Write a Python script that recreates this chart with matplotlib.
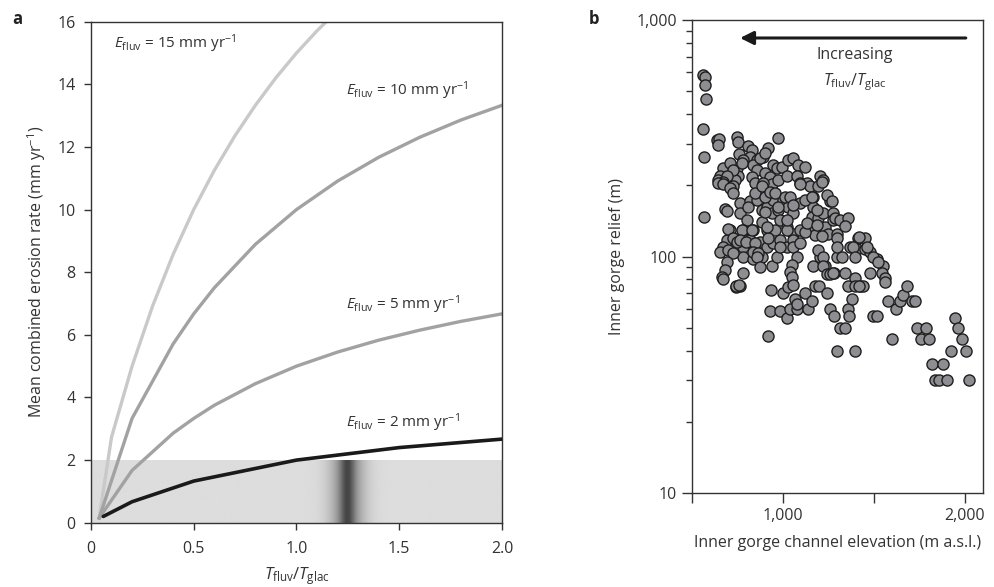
import numpy as np
import matplotlib
matplotlib.use("Agg")
import matplotlib.pyplot as plt

plt.rcParams['font.family'] = ['Open Sans', 'DejaVu Sans']
plt.rcParams['mathtext.fontset'] = 'custom'
plt.rcParams['mathtext.rm'] = 'Open Sans'
plt.rcParams['mathtext.it'] = 'Open Sans:italic'
plt.rcParams['mathtext.bf'] = 'Open Sans:bold'

# ---------------- Panel a data ----------------
ratio_x15 = [0.04, 0.1, 0.2, 0.3, 0.4, 0.5, 0.6, 0.7, 0.8, 0.9, 1.0, 1.1, 1.2]
e15 = [0.15, 2.73, 5.0, 6.92, 8.57, 10.0, 11.25, 12.35, 13.33, 14.21, 15.0, 15.71, 16.36]
ratio_x = [0.04, 0.2, 0.4, 0.5, 0.6, 0.8, 1.0, 1.2, 1.4, 1.6, 1.8, 2.0]
e10 = [0.15, 3.33, 5.71, 6.67, 7.5, 8.89, 10.0, 10.91, 11.67, 12.31, 12.86, 13.33]
e5 = [0.15, 1.67, 2.86, 3.33, 3.75, 4.44, 5.0, 5.45, 5.83, 6.15, 6.43, 6.67]
ratio_x2 = [0.06, 0.2, 0.5, 1.0, 1.5, 2.0]
e2 = [0.2, 0.67, 1.33, 2.0, 2.4, 2.67]
curve_labels = ["15", "10", "5", "2"]

# ---------------- Panel b data ----------------
elevation = (
    [560, 571, 571, 577, 560, 566, 566, 637, 648, 643, 747, 753, 973]
    + [808, 830, 819, 758, 780, 918, 890, 857, 670, 654, 643, 747, 753, 736, 725]
    + [835, 857, 830, 846, 945, 967, 994, 1027, 1055, 1082, 1120, 1203, 1220]
    + [901, 929, 940, 890, 973, 1022, 1077, 1093, 1131, 1148, 775, 874, 901]
    + [709, 725, 692, 670, 1192, 1165, 1148, 1165, 1159, 1192, 1220, 1275]
    + [1148, 1176, 1231, 1247, 1297, 1412, 1450, 1368, 1406, 1450, 1478, 1517, 1550, 1203, 1165, 1231]
    + [764, 819, 857, 885, 912, 945, 940, 973, 1000, 1027, 1055, 1093]
    + [764, 803, 781, 835, 885, 912, 956, 984, 1022, 1055, 1093]
    + [748, 781, 819, 874, 912, 945, 984, 1022, 1055, 709, 692, 670, 654, 781, 835, 885]
    + [643, 670, 709, 725, 808, 846, 885, 901, 929, 956, 973, 1011, 1038, 1055, 1093, 1120, 1159, 1187, 1214, 1258]
    + [681, 692, 698, 725, 747, 698, 725, 692, 681, 665, 670, 780, 764, 742]
    + [775, 830, 764, 797, 846, 835, 863, 857, 874, 940, 918, 912, 901, 967, 984, 1022, 1022, 1055, 1077, 1049]
    + [1093, 1120, 1131, 1187, 1214, 1192, 1220, 1220, 1242, 1258, 1280, 1297, 1297, 1242, 1275, 1038, 1049]
    + [1269, 1286, 1313, 1357, 1341, 1418, 1297, 1385, 1462, 1324, 1395, 1495, 1522, 1275, 1341, 1478, 1544, 1560, 1395, 1423, 1440, 1357]
    + [740, 760, 934, 929, 984, 918, 1000, 1030, 1055, 1022, 1038, 1077, 1066, 1077, 1120, 1137, 1159, 1176, 1198, 1242, 1258, 1280, 1313, 1341, 1297]
    + [1357, 1363, 1379, 1395, 1417, 1395, 1495, 1517, 1560, 1577, 1599, 1621, 1643, 1660, 1681, 1709, 1725, 1736, 1758, 1786, 1802]
    + [1819, 1879, 1835, 1857, 1901, 1923, 1945, 1962, 1984, 2006, 2022]
)
relief = (
    [585, 575, 530, 462, 346, 264, 147, 311, 313, 296, 320, 305, 318]
    + [294, 283, 264, 270, 256, 288, 264, 256, 237, 220, 211, 237, 220, 211, 198]
    + [244, 232, 217, 205, 244, 237, 239, 256, 261, 244, 239, 220, 211]
    + [225, 217, 202, 205, 211, 220, 220, 205, 205, 198, 249, 261, 275]
    + [249, 232, 220, 207, 198, 179, 174, 162, 147, 146, 153, 153]
    + [130, 123, 133, 125, 125, 120, 120, 110, 108, 108, 104, 98, 91, 100, 91, 91]
    + [169, 171, 174, 157, 162, 174, 153, 157, 174, 162, 153, 169]
    + [153, 143, 130, 130, 140, 130, 130, 143, 133, 125, 130]
    + [118, 110, 118, 115, 110, 114, 118, 110, 118, 130, 118, 110, 104, 100, 98, 100]
    + [205, 202, 194, 185, 162, 185, 198, 179, 188, 185, 162, 179, 179, 165, 202, 174, 179, 157, 207, 171]
    + [159, 156, 131, 120, 115, 107, 103, 95, 88, 82, 80, 85, 75, 74]
    + [130, 130, 118, 115, 114, 105, 103, 100, 90, 91, 120, 133, 154, 100, 110, 130, 143, 110, 100, 92]
    + [114, 127, 139, 136, 122, 107, 100, 91, 84, 84, 85, 120, 100, 182, 143, 86, 82]
    + [171, 146, 143, 146, 135, 121, 110, 110, 110, 100, 100, 100, 95, 85, 85, 85, 85, 81, 81, 75, 75, 75]
    + [75, 76, 72, 59, 59, 46, 70, 74, 76, 55, 60, 60, 66, 63, 70, 60, 65, 75, 75, 70, 60, 56, 50, 50, 40]
    + [60, 56, 66, 75, 75, 40, 56, 56, 78, 65, 45, 60, 65, 69, 75, 65, 65, 50, 45, 50, 45]
    + [35, 35, 30, 30, 30, 40, 55, 50, 45, 40, 30]
)
x_ticks_b = [500, 1000, 1500, 2000]
x_ticklabels_b = ["", "1,000", "", "2,000"]
y_ticks_b = [10, 100, 1000]
y_ticklabels_b = ["10", "100", "1,000"]

TXT = '#333333'
fig = plt.figure(figsize=(9.94, 5.87), dpi=100)

# ---------------- Panel a ----------------
ax = fig.add_axes([0.0915, 0.1095, 0.4135, 0.8535])
xs = np.linspace(0, 2, 1000)
base = 0.865
g = base - (base - 0.27) * (0.55 * np.exp(-((xs - 1.245) / 0.085) ** 2)
                            + 0.45 * np.exp(-((xs - 1.245) / 0.035) ** 2))
img = np.tile(g, (2, 1))
ax.imshow(img, extent=[0, 2, 0, 2], aspect='auto', cmap='gray', vmin=0, vmax=1,
          origin='lower', zorder=0, interpolation='bilinear')

ax.plot(ratio_x15, e15, color='#c9c9c9', lw=2.4, zorder=2)
ax.plot(ratio_x, e10, color='#a2a2a2', lw=2.4, zorder=2)
ax.plot(ratio_x, e5, color='#a2a2a2', lw=2.4, zorder=2)
ax.plot(ratio_x2, e2, color='#1a1a1a', lw=2.6, zorder=3, solid_capstyle='round')

ax.set_xlim(0, 2)
ax.set_ylim(0, 16)
ax.set_xticks([0, 0.5, 1.0, 1.5, 2.0])
ax.set_xticklabels(["0", "0.5", "1.0", "1.5", "2.0"])
ax.set_yticks([0, 2, 4, 6, 8, 10, 12, 14, 16])
ax.tick_params(direction='out', length=5, width=1, colors=TXT, labelsize=11.5)
ax.tick_params(axis='y', pad=6)
ax.tick_params(axis='x', pad=8)
for s in ax.spines.values():
    s.set_color(TXT)
    s.set_linewidth(1)
ax.set_ylabel("Mean combined erosion rate (mm yr$^{-1}$)", fontsize=11.5, color=TXT, labelpad=7)
ax.set_xlabel(r"$T_{\mathrm{fluv}}/T_{\mathrm{glac}}$", fontsize=12, color=TXT, labelpad=6)

lab_pos = [(0.11, 15.3), (1.24, 13.8), (1.24, 6.95), (1.24, 3.18)]
for lab, (lx, ly) in zip(curve_labels, lab_pos):
    ax.text(lx, ly, r"$E_{\mathrm{fluv}}$ = " + lab + r" mm yr$^{-1}$", fontsize=11,
            color=TXT, ha='left', va='center')

# ---------------- Panel b ----------------
bx = fig.add_axes([0.6962, 0.160, 0.2928, 0.806])
bx.scatter(elevation, relief, s=64, facecolor='#8e8e92', edgecolor='#1e1e1e',
           linewidth=1.0, zorder=3)
bx.set_yscale('log')
bx.set_xlim(500, 2100)
bx.set_ylim(10, 1000)
bx.set_xticks(x_ticks_b)
bx.set_xticklabels(x_ticklabels_b)
bx.set_yticks(y_ticks_b)
bx.set_yticklabels(y_ticklabels_b)
bx.tick_params(which='major', direction='out', length=7, width=1, colors=TXT, labelsize=11.5, pad=4)
bx.tick_params(which='minor', direction='out', length=4, width=1, colors=TXT)
bx.tick_params(axis='x', which='minor', length=0)
for s in bx.spines.values():
    s.set_color(TXT)
    s.set_linewidth(1)
bx.set_ylabel("Inner gorge relief (m)", fontsize=11.5, color=TXT, labelpad=8)
bx.set_xlabel("Inner gorge channel elevation (m a.s.l.)", fontsize=11.5, color=TXT, labelpad=8)

bx.annotate('', xy=(764, 839), xytext=(2005, 839),
            arrowprops=dict(arrowstyle='-|>', color='#1a1a1a', lw=2.2, mutation_scale=20,
                            shrinkA=0, shrinkB=0))
bx.text(1396, 711, "Increasing", fontsize=11.5, color=TXT, ha='center', va='center')
bx.text(1396, 545, r"$T_{\mathrm{fluv}}/T_{\mathrm{glac}}$", fontsize=11.5, color=TXT,
        ha='center', va='center')

fig.text(0.012, 0.968, "a", fontsize=12, fontweight='bold', color='#222222', va='center')
fig.text(0.592, 0.968, "b", fontsize=12, fontweight='bold', color='#222222', va='center')

fig.savefig("out.png", dpi=100)
